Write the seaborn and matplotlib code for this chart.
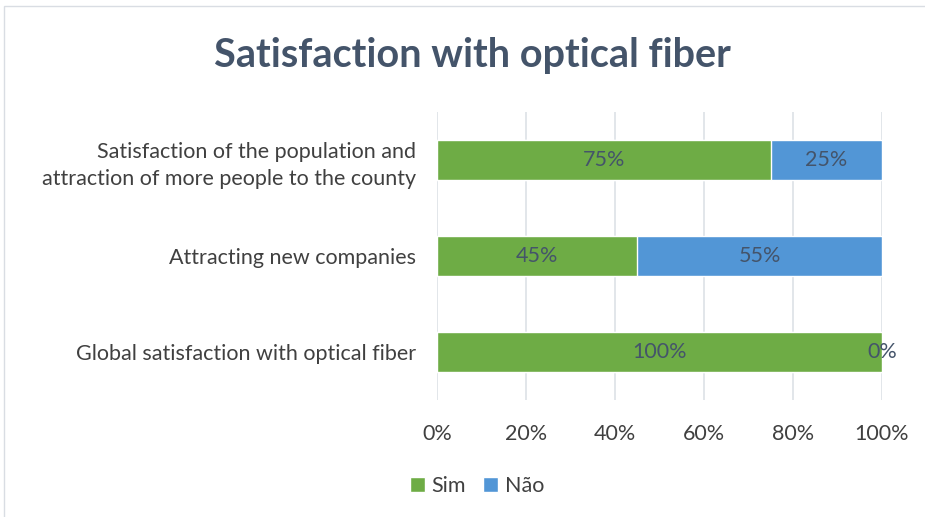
import matplotlib
matplotlib.use("Agg")
import matplotlib.pyplot as plt
import seaborn as sns
import pandas as pd
from matplotlib.patches import Rectangle, Patch

categories = ["Satisfaction of the population and\nattraction of more people to the county",
              "Attracting new companies",
              "Global satisfaction with optical fiber"]
sim = [75, 45, 100]
nao = [25, 55, 0]
series_names = ["Sim", "Não"]
xticks = [0, 20, 40, 60, 80, 100]
title = "Satisfaction with optical fiber"

green = "#6EAC45"
blue = "#5296D6"
text_col = "#404040"
label_col = "#44546A"
fs = 15.5

sns.set_theme(style="white")
plt.rcParams['font.family'] = ['Lato', 'DejaVu Sans']

df = pd.DataFrame({"cat": categories, "sim": sim, "nao": nao})
df["total"] = df["sim"] + df["nao"]

fig = plt.figure(figsize=(9.25, 5.17), dpi=100)
ax = fig.add_axes([437/925, 1-400/517, (882-437)/925, (400-112)/517])

sns.barplot(data=df, y="cat", x="total", color=blue, orient="h", ax=ax,
            width=0.41, saturation=1)
sns.barplot(data=df, y="cat", x="sim", color=green, orient="h", ax=ax,
            width=0.41, saturation=1)

ax.set_xlim(0, 100)
ax.set_ylim(2.5, -0.5)
ax.set_xticks(xticks)
ax.set_xticklabels([f"{t}%" for t in xticks], fontsize=fs, color=text_col)
ax.tick_params(axis='y', labelsize=fs, labelcolor=text_col, length=0, pad=15)
ax.tick_params(axis='x', length=0, pad=17)
for lab in ax.get_yticklabels():
    lab.set_horizontalalignment('right')
    lab.set_linespacing(1.45)
ax.set_xlabel("")
ax.set_ylabel("")
ax.grid(axis='x', color="#DDE1E6", linewidth=1.2)
ax.set_axisbelow(True)
for s in ax.spines.values():
    s.set_visible(False)

for i in range(len(categories)):
    ax.text(sim[i]/2, i, f"{sim[i]}%", ha='center', va='center', fontsize=fs, color=label_col)
    ax.text(sim[i] + nao[i]/2, i, f"{nao[i]}%", ha='center', va='center', fontsize=fs, color=label_col)

fig.text(472/925, 1-55/517, title, ha='center', va='center', fontsize=28.5,
         fontweight='bold', color="#44546A")

handles = [Patch(facecolor=green, label=series_names[0]),
           Patch(facecolor=blue, label=series_names[1])]
leg = fig.legend(handles=handles, loc='center', bbox_to_anchor=(477/925, 1-486/517),
                 ncol=2, frameon=False, fontsize=fs, handlelength=0.7, handleheight=0.7,
                 handletextpad=0.3, columnspacing=0.8)
for t in leg.get_texts():
    t.set_color(text_col)

fig.patches.append(Rectangle((4/925, -0.1), 1.1, 1 - 6/517 + 0.1, transform=fig.transFigure,
                             fill=False, edgecolor="#D9DDE3", linewidth=1))

fig.savefig("out.png", dpi=100)
